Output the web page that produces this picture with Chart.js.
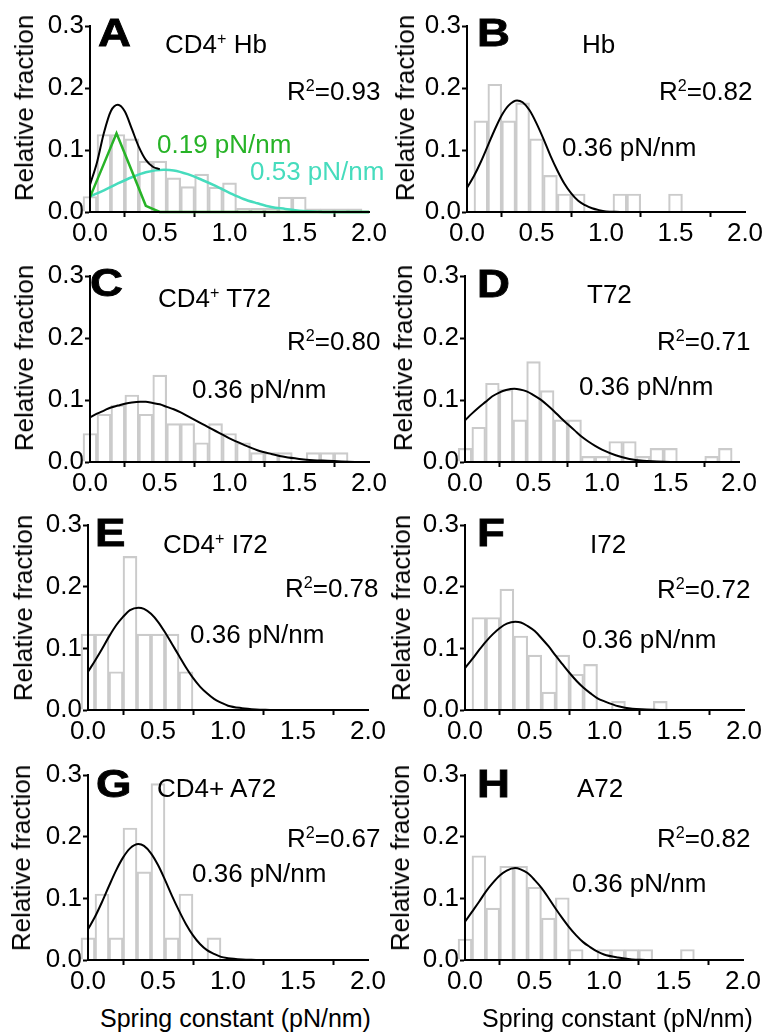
<!DOCTYPE html>
<html>
<head>
<meta charset="utf-8">
<title>Spring constant histograms</title>
<script src="https://cdn.jsdelivr.net/npm/chart.js@4/dist/chart.umd.min.js"></script>
<style>
  html, body { margin: 0; padding: 0; background: #fff; }
  #fig { position: relative; width: 764px; height: 1036px; overflow: hidden;
         font-family: "Liberation Sans", Arial, sans-serif; color: #000; }
  #fig canvas { position: absolute; }
  .t { position: absolute; white-space: nowrap; line-height: 1; font-size: 26px; }
  .t sup { font-size: 0.62em; line-height: 0; position: relative; top: -0.55em; vertical-align: 0; }
  .letter { font-weight: bold; font-size: 38px; transform: scaleX(1.2); transform-origin: 0 0;
            -webkit-text-stroke: 0.8px #000; }
  .xtitle { font-size: 25px; }
  .ytitle { transform: translate(-50%, -50%) rotate(-90deg); }
</style>
</head>
<body>
<div id="fig"></div>
<script>
// histogram bin centres (bin width 0.1 pN/nm)
const BIN_X = [0.0, 0.1, 0.2, 0.3, 0.4, 0.5, 0.6, 0.7, 0.8, 0.9,
               1.0, 1.1, 1.2, 1.3, 1.4, 1.5, 1.6, 1.7, 1.8, 1.9];

// relative fraction per bin, null = empty bin
const binsA = [0.025, 0.125, 0.125, 0.118, 0.082, 0.082, 0.055, 0.041, 0.061, 0.040,
               0.047, 0.006, 0.006, 0.006, 0.024, 0.024, 0.005, 0.005, 0.005, 0.005];
const binsB = [null, 0.147, 0.206, 0.147, 0.176, 0.118, 0.059, 0.029, 0.029, null,
               null, 0.029, 0.029, null, null, 0.029, null, null, null, null];
const binsC = [0.046, 0.077, 0.092, 0.108, 0.077, 0.140, 0.062, 0.062, 0.031, 0.062,
               0.046, 0.031, 0.015, 0.015, 0.015, null, 0.015, 0.015, 0.015, null];
const binsD = [0.022, 0.056, 0.127, 0.117, 0.068, 0.162, 0.115, 0.068, 0.068, 0.009,
               0.009, 0.033, 0.033, 0.009, 0.022, 0.022, null, null, 0.009, 0.022];
const binsE = [0.123, 0.123, 0.062, 0.249, 0.123, 0.123, 0.123, 0.062, null, null,
               null, null, null, null, null, null, null, null, null, null];
const binsF = [null, 0.150, 0.150, 0.196, 0.120, 0.089, 0.029, 0.089, 0.058, 0.074,
               null, 0.014, null, null, 0.014, null, null, null, null, null];
const binsG = [0.036, 0.107, 0.036, 0.214, 0.143, 0.286, 0.036, 0.107, null, 0.036,
               null, null, null, null, null, null, null, null, null, null];
const binsH = [0.034, 0.169, 0.084, 0.152, 0.152, 0.118, 0.068, 0.101, 0.017, null,
               0.017, 0.017, 0.017, 0.017, null, null, 0.017, null, null, null];

// gaussian fits centred on 0.36 pN/nm, sampled on FIT_X
const FIT_X = [0, 0.05, 0.1, 0.15, 0.2, 0.25, 0.3, 0.36, 0.4, 0.45,
               0.5, 0.55, 0.6, 0.65, 0.7, 0.75, 0.8, 0.85, 0.9, 0.95,
               1.0, 1.1, 1.2, 1.3, 1.4, 1.5, 1.6, 1.7, 1.8, 1.9];
const fitB = [0.039, 0.058, 0.081, 0.107, 0.133, 0.156, 0.172, 0.180, 0.177, 0.164,
              0.143, 0.118, 0.091, 0.067, 0.046, 0.030, 0.018, 0.011, 0.006, 0.003,
              0.001, 0];
const fitC = [0.072, 0.078, 0.083, 0.088, 0.091, 0.094, 0.096, 0.097, 0.097, 0.095,
              0.093, 0.089, 0.085, 0.080, 0.074, 0.068, 0.062, 0.056, 0.050, 0.044,
              0.038, 0.028, 0.019, 0.013, 0.008, 0.005, 0.003, 0.002, 0.001, 0];
const fitD = [0.067, 0.078, 0.088, 0.097, 0.106, 0.112, 0.116, 0.118, 0.117, 0.114,
              0.108, 0.101, 0.092, 0.082, 0.071, 0.061, 0.051, 0.041, 0.033, 0.026,
              0.020, 0.011, 0.005, 0.002, 0.001, 0];
const fitE = [0.062, 0.080, 0.099, 0.119, 0.137, 0.151, 0.162, 0.166, 0.164, 0.156,
              0.143, 0.126, 0.107, 0.088, 0.069, 0.052, 0.038, 0.027, 0.018, 0.012,
              0.007, 0.003, 0.001, 0];
const fitF = [0.068, 0.082, 0.097, 0.111, 0.123, 0.133, 0.140, 0.143, 0.142, 0.136,
              0.128, 0.116, 0.103, 0.088, 0.074, 0.060, 0.047, 0.036, 0.027, 0.019,
              0.014, 0.006, 0.002, 0.001, 0];
const fitG = [0.050, 0.070, 0.094, 0.120, 0.145, 0.166, 0.181, 0.188, 0.185, 0.173,
              0.154, 0.130, 0.104, 0.080, 0.058, 0.040, 0.026, 0.016, 0.010, 0.005,
              0.003, 0.001, 0];
const fitH = [0.062, 0.078, 0.094, 0.111, 0.125, 0.137, 0.145, 0.149, 0.147, 0.141,
              0.130, 0.117, 0.101, 0.084, 0.068, 0.053, 0.040, 0.029, 0.021, 0.014,
              0.009, 0.004, 0.001, 0];

// CD4+ Hb: two-component fit (0.19 and 0.53 pN/nm) and their sum
const A_SUM_X  = [0, 0.05, 0.1, 0.15, 0.2, 0.25, 0.3, 0.35, 0.4, 0.45, 0.5];
const fitA     = [0.044, 0.080, 0.128, 0.163, 0.173, 0.162, 0.134, 0.105, 0.084, 0.073, 0.069];
const A_FAST_X = [0, 0.1, 0.19, 0.3, 0.4, 0.5, 0.6, 0.8, 1.0, 1.2, 1.4, 1.6, 1.8, 2.0];
const fitAfast = [0.024, 0.078, 0.127, 0.066, 0.010, 0, 0, 0, 0, 0, 0, 0, 0, 0];
const A_SLOW_X = [0, 0.1, 0.2, 0.3, 0.4, 0.53, 0.6, 0.7, 0.8, 0.9, 1.0,
                  1.1, 1.2, 1.3, 1.4, 1.5, 1.6, 1.7, 1.8, 1.9, 2.0];
const fitAslow = [0.025, 0.035, 0.046, 0.056, 0.064, 0.068, 0.067, 0.061, 0.052, 0.042, 0.031,
                  0.021, 0.014, 0.008, 0.005, 0.002, 0.001, 0, 0, 0, 0];

const GREEN = "#27b327";
const CYAN = "#46dcbd";
const BAR_EDGE = "#cbcbcb";
const FONT = '"Liberation Sans", Arial, sans-serif';
const TICK_FONT = { family: FONT, size: 26 };

// canvas placement and plot rectangle (l, r, t, b) inside each canvas
const PANELS = [
  { left: 0,   top: 0,   w: 400, plot: [90, 369, 26, 212], yt: 24 },
  { left: 382, top: 0,   w: 382, plot: [85, 363, 26, 212], yt: 23 },
  { left: 0,   top: 250, w: 400, plot: [90, 369, 26, 212], yt: 24 },
  { left: 382, top: 250, w: 382, plot: [83, 357, 26, 212], yt: 21 },
  { left: 0,   top: 500, w: 400, plot: [88, 368, 25, 210], yt: 23 },
  { left: 382, top: 500, w: 382, plot: [83, 362, 25, 210], yt: 19 },
  { left: 0,   top: 750, w: 400, plot: [88, 368, 25, 210], yt: 21 },
  { left: 382, top: 750, w: 382, plot: [83, 361, 25, 210], yt: 18 },
];
const CANVAS_H = 250;

function pts(xs, ys) { return ys.map((y, i) => ({ x: xs[i], y })); }

function histogram(bins) {
  return { type: "bar", data: pts(BIN_X, bins), backgroundColor: "rgba(255,255,255,0)",
           borderColor: BAR_EDGE, borderWidth: 1.5, barPercentage: 1, categoryPercentage: 1,
           clip: false, order: 5 };
}
function curve(data, color, width, smooth) {
  return { type: "line", data, borderColor: color, borderWidth: width, pointRadius: 0,
           fill: false, tension: 0, cubicInterpolationMode: smooth ? "monotone" : "default",
           clip: false, order: 1 };
}

const DATASETS = [
  [histogram(binsA), curve(pts(A_SUM_X, fitA), "#000", 2, true),
   curve(pts(A_FAST_X, fitAfast), GREEN, 2.5, false),
   curve(pts(A_SLOW_X, fitAslow), CYAN, 2.5, true)],
  [histogram(binsB), curve(pts(FIT_X, fitB), "#000", 2, true)],
  [histogram(binsC), curve(pts(FIT_X, fitC), "#000", 2, true)],
  [histogram(binsD), curve(pts(FIT_X, fitD), "#000", 2, true)],
  [histogram(binsE), curve(pts(FIT_X, fitE), "#000", 2, true)],
  [histogram(binsF), curve(pts(FIT_X, fitF), "#000", 2, true)],
  [histogram(binsG), curve(pts(FIT_X, fitG), "#000", 2, true)],
  [histogram(binsH), curve(pts(FIT_X, fitH), "#000", 2, true)],
];

// text: [html, x, baseline, class, colour]
const TEXTS = [
  ["A", 98, 46, "letter"], ["CD4<sup>+</sup> Hb", 165, 53], ["R<sup>2</sup>=0.93", 287, 100],
  ["0.19 pN/nm", 157, 153, "", GREEN], ["0.53 pN/nm", 250, 180, "", CYAN],
  ["B", 477, 46, "letter"], ["Hb", 582, 53], ["R<sup>2</sup>=0.82", 659, 100], ["0.36 pN/nm", 562, 156],
  ["C", 90, 296, "letter"], ["CD4<sup>+</sup> T72", 158, 307], ["R<sup>2</sup>=0.80", 287, 350], ["0.36 pN/nm", 192, 398],
  ["D", 477, 297, "letter"], ["T72", 587, 303], ["R<sup>2</sup>=0.71", 657, 350], ["0.36 pN/nm", 579, 395],
  ["E", 95, 546, "letter"], ["CD4<sup>+</sup> I72", 163, 553], ["R<sup>2</sup>=0.78", 285, 597], ["0.36 pN/nm", 190, 643],
  ["F", 477, 546, "letter"], ["I72", 590, 553], ["R<sup>2</sup>=0.72", 657, 598], ["0.36 pN/nm", 582, 648],
  ["G", 96, 797, "letter"], ["CD4+ A72", 157, 797], ["R<sup>2</sup>=0.67", 287, 847], ["0.36 pN/nm", 192, 882],
  ["H", 477, 797, "letter"], ["A72", 577, 797], ["R<sup>2</sup>=0.82", 657, 847], ["0.36 pN/nm", 572, 892],
  ["Spring constant (pN/nm)", 100, 1027, "xtitle"], ["Spring constant (pN/nm)", 482, 1027, "xtitle"],
];

const fig = document.getElementById("fig");

function axisOpts(extra) {
  return Object.assign({
    ticks: { color: "#000", font: TICK_FONT, padding: 1, maxRotation: 0, autoSkip: false,
             callback: v => v.toFixed(1) },
    grid: { drawOnChartArea: false, drawTicks: true, tickLength: 5, tickWidth: 2, tickColor: "#000" },
    border: { color: "#000", width: 2, z: 2 },
  }, extra);
}

PANELS.forEach((p, i) => {
  const cv = document.createElement("canvas");
  cv.width = p.w; cv.height = CANVAS_H;
  cv.style.left = p.left + "px"; cv.style.top = p.top + "px";
  cv.style.width = p.w + "px"; cv.style.height = CANVAS_H + "px";
  fig.appendChild(cv);
  const [l, r, t, b] = p.plot;

  const x = axisOpts({ type: "linear", min: 0, max: 2, offset: false,
    afterFit: s => { s.height = CANVAS_H - b; s.paddingLeft = 0; s.paddingRight = 0; } });
  x.ticks.stepSize = 0.5;
  const y = axisOpts({ min: 0, max: 0.3,
    afterFit: s => { s.width = l; s.paddingTop = 0; s.paddingBottom = 0; } });
  y.ticks.stepSize = 0.1;

  new Chart(cv, {
    type: "bar",
    data: { datasets: DATASETS[i] },
    options: {
      responsive: false, animation: false, events: [],
      layout: { padding: { left: 0, top: t, right: p.w - r, bottom: 0 } },
      plugins: { legend: { display: false }, tooltip: { enabled: false } },
      scales: { x, y },
    },
  });

  // y axis title
  const yt = document.createElement("div");
  yt.className = "t ytitle";
  yt.textContent = "Relative fraction";
  yt.style.left = (p.left + p.yt) + "px";
  yt.style.top = (p.top + 108) + "px";
  fig.appendChild(yt);
});

TEXTS.forEach(([html, x, base, cls, color]) => {
  const d = document.createElement("div");
  d.className = "t" + (cls ? " " + cls : "");
  d.innerHTML = html;
  const size = cls === "letter" ? 38 : cls === "xtitle" ? 25 : 26;
  d.style.left = x + "px";
  d.style.top = (base - 0.8465 * size) + "px";
  if (color) d.style.color = color;
  fig.appendChild(d);
});
</script>
</body>
</html>
